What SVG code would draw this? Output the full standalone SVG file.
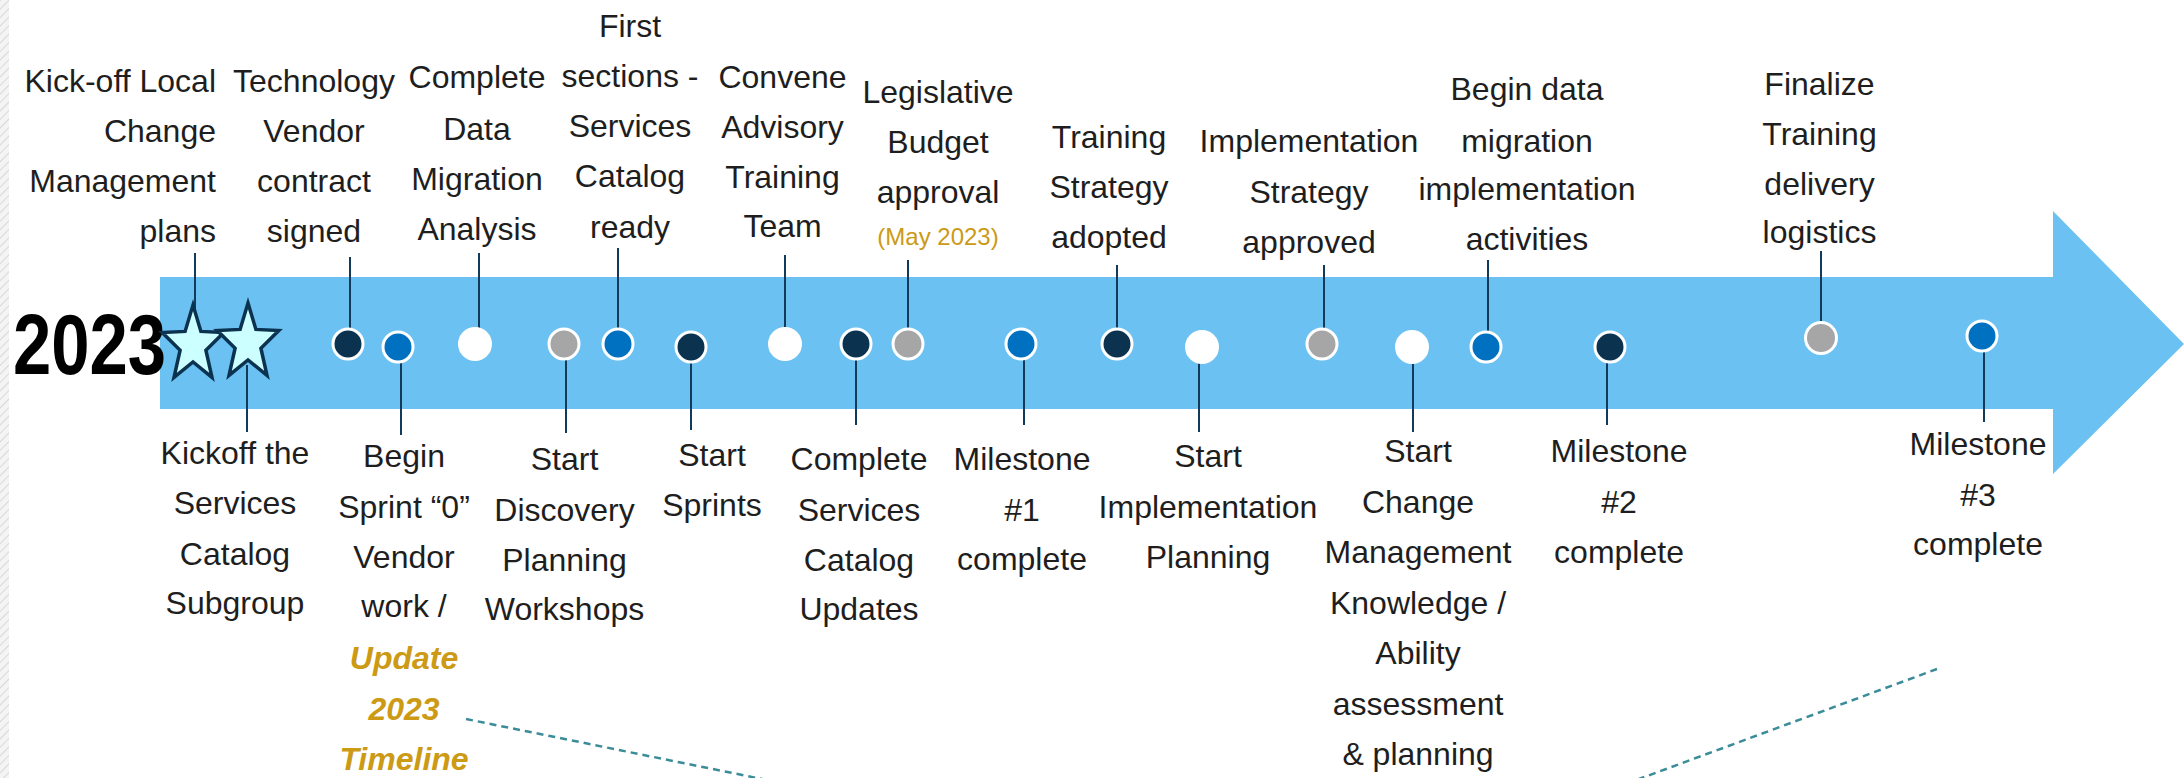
<svg xmlns="http://www.w3.org/2000/svg" width="2184" height="778" viewBox="0 0 2184 778">
<defs>
<style>
.lbl{font-family:"Liberation Sans",Arial,sans-serif;font-size:32px;fill:#1e1e1e;}
.gold{fill:#CC9A14;}
.gbi{font-weight:bold;font-style:italic;font-size:32px;}
.may{font-size:24px;}
.year{font-family:"Liberation Sans",Arial,sans-serif;font-size:86px;font-weight:bold;fill:#000;}
.con{stroke:#123A5A;stroke-width:2;fill:none;}
.dash{stroke:#3B8C99;stroke-width:2.5;stroke-dasharray:7 5;fill:none;}
.dot{stroke:#ffffff;stroke-width:3;}
.navy{fill:#0B3350;}
.blue{fill:#0070C0;}
.gray{fill:#A6A6A6;}
.white{fill:#ffffff;}
.star{fill:#CCFFFF;stroke:#0B3350;stroke-width:3.5;stroke-linejoin:miter;}
</style>
<pattern id="hatch" width="6" height="6" patternUnits="userSpaceOnUse" patternTransform="rotate(45)">
<rect width="6" height="6" fill="#f4f4f4"/>
<line x1="0" y1="0" x2="0" y2="6" stroke="#d8d8d8" stroke-width="2"/>
</pattern>
<polygon id="starShape" points="0,-40 7.9,-13.6 30.8,-12.4 12.9,5.2 19,32.4 0,17 -19,32.4 -12.9,5.2 -30.8,-12.4 -7.9,-13.6"/>
</defs>
<rect width="2184" height="778" fill="#ffffff"/>
<rect x="0" y="0" width="9" height="778" fill="url(#hatch)"/>

<g id="timeline-arrow">
<polygon points="160,277 2053,277 2053,211 2184,344 2053,474 2053,409 160,409" fill="#6BC1F2"/>
</g>

<g id="year-label">
<text class="year" transform="translate(13,374) scale(0.8,1)" x="0" y="0">2023</text>
</g>

<g id="connectors">
<line class="con" x1="195" y1="253" x2="195" y2="318"/>
<line class="con" x1="350" y1="257" x2="350" y2="330"/>
<line class="con" x1="479" y1="253" x2="479" y2="330"/>
<line class="con" x1="618" y1="248" x2="618" y2="330"/>
<line class="con" x1="785" y1="255" x2="785" y2="330"/>
<line class="con" x1="908" y1="260" x2="908" y2="330"/>
<line class="con" x1="1117" y1="265" x2="1117" y2="330"/>
<line class="con" x1="1324" y1="265" x2="1324" y2="330"/>
<line class="con" x1="1488" y1="260" x2="1488" y2="333"/>
<line class="con" x1="1821" y1="251" x2="1821" y2="323"/>
<line class="con" x1="247" y1="365" x2="247" y2="432"/>
<line class="con" x1="401" y1="360" x2="401" y2="435"/>
<line class="con" x1="566" y1="358" x2="566" y2="433"/>
<line class="con" x1="691" y1="360" x2="691" y2="430"/>
<line class="con" x1="856" y1="358" x2="856" y2="425"/>
<line class="con" x1="1024" y1="358" x2="1024" y2="425"/>
<line class="con" x1="1199" y1="361" x2="1199" y2="432"/>
<line class="con" x1="1413" y1="361" x2="1413" y2="432"/>
<line class="con" x1="1607" y1="361" x2="1607" y2="425"/>
<line class="con" x1="1984" y1="350" x2="1984" y2="422"/>
<line class="dash" x1="466" y1="719" x2="762" y2="779"/>
<line class="dash" x1="1937" y1="669" x2="1639" y2="779"/>
</g>

<g id="t1-kickoff-local">
<use href="#starShape" class="star" transform="translate(193,345)"/>
<text class="lbl" text-anchor="end"><tspan x="216" y="92">Kick-off Local</tspan><tspan x="216" y="142">Change</tspan><tspan x="216" y="192">Management</tspan><tspan x="216" y="242">plans</tspan></text>
</g>
<g id="b1-kickoff-services">
<use href="#starShape" class="star" transform="translate(248,343)"/>
<text class="lbl" text-anchor="middle"><tspan x="235" y="464">Kickoff the</tspan><tspan x="235" y="514">Services</tspan><tspan x="235" y="565">Catalog</tspan><tspan x="235" y="614">Subgroup</tspan></text>
</g>
<g id="t2-vendor-contract">
<circle class="dot navy" cx="348" cy="344" r="15"/>
<text class="lbl" text-anchor="middle"><tspan x="314" y="92">Technology</tspan><tspan x="314" y="142">Vendor</tspan><tspan x="314" y="192">contract</tspan><tspan x="314" y="242">signed</tspan></text>
</g>
<g id="b2-sprint-0">
<circle class="dot blue" cx="398" cy="347" r="15"/>
<text class="lbl" text-anchor="middle"><tspan x="404" y="467">Begin</tspan><tspan x="404" y="518">Sprint “0”</tspan><tspan x="404" y="568">Vendor</tspan><tspan x="404" y="617">work /</tspan><tspan class="gold gbi" x="404" y="669">Update</tspan><tspan class="gold gbi" x="404" y="720">2023</tspan><tspan class="gold gbi" x="404" y="770">Timeline</tspan></text>
</g>
<g id="t3-data-migration">
<circle class="dot white" cx="475" cy="344" r="15.5"/>
<text class="lbl" text-anchor="middle"><tspan x="477" y="88">Complete</tspan><tspan x="477" y="140">Data</tspan><tspan x="477" y="190">Migration</tspan><tspan x="477" y="240">Analysis</tspan></text>
</g>
<g id="b3-discovery">
<circle class="dot gray" cx="564" cy="344" r="15"/>
<text class="lbl" text-anchor="middle"><tspan x="564.5" y="470">Start</tspan><tspan x="564.5" y="521">Discovery</tspan><tspan x="564.5" y="571">Planning</tspan><tspan x="564.5" y="620">Workshops</tspan></text>
</g>
<g id="t4-first-sections">
<circle class="dot blue" cx="618" cy="344" r="15"/>
<text class="lbl" text-anchor="middle"><tspan x="630" y="37">First</tspan><tspan x="630" y="87">sections -</tspan><tspan x="630" y="137">Services</tspan><tspan x="630" y="187">Catalog</tspan><tspan x="630" y="238">ready</tspan></text>
</g>
<g id="b4-sprints">
<circle class="dot navy" cx="691" cy="347" r="15"/>
<text class="lbl" text-anchor="middle"><tspan x="712" y="466">Start</tspan><tspan x="712" y="516">Sprints</tspan></text>
</g>
<g id="t5-advisory">
<circle class="dot white" cx="785" cy="344" r="15.5"/>
<text class="lbl" text-anchor="middle"><tspan x="782.5" y="88">Convene</tspan><tspan x="782.5" y="138">Advisory</tspan><tspan x="782.5" y="188">Training</tspan><tspan x="782.5" y="237">Team</tspan></text>
</g>
<g id="b5-catalog-updates">
<circle class="dot navy" cx="856" cy="344" r="15"/>
<text class="lbl" text-anchor="middle"><tspan x="859" y="470">Complete</tspan><tspan x="859" y="521">Services</tspan><tspan x="859" y="571">Catalog</tspan><tspan x="859" y="620">Updates</tspan></text>
</g>
<g id="t6-budget">
<circle class="dot gray" cx="908" cy="344" r="15"/>
<text class="lbl" text-anchor="middle"><tspan x="938" y="103">Legislative</tspan><tspan x="938" y="153">Budget</tspan><tspan x="938" y="203">approval</tspan><tspan class="gold may" x="938" y="245">(May 2023)</tspan></text>
</g>
<g id="b6-milestone-1">
<circle class="dot blue" cx="1021" cy="344" r="15"/>
<text class="lbl" text-anchor="middle"><tspan x="1022" y="470">Milestone</tspan><tspan x="1022" y="521">#1</tspan><tspan x="1022" y="570">complete</tspan></text>
</g>
<g id="t7-training-strategy">
<circle class="dot navy" cx="1117" cy="344" r="15"/>
<text class="lbl" text-anchor="middle"><tspan x="1109" y="148">Training</tspan><tspan x="1109" y="198">Strategy</tspan><tspan x="1109" y="248">adopted</tspan></text>
</g>
<g id="b7-implementation-planning">
<circle class="dot white" cx="1202" cy="347" r="15.5"/>
<text class="lbl" text-anchor="middle"><tspan x="1208" y="467">Start</tspan><tspan x="1208" y="518">Implementation</tspan><tspan x="1208" y="568">Planning</tspan></text>
</g>
<g id="t8-implementation-strategy">
<circle class="dot gray" cx="1322" cy="344" r="15"/>
<text class="lbl" text-anchor="middle"><tspan x="1309" y="152">Implementation</tspan><tspan x="1309" y="203">Strategy</tspan><tspan x="1309" y="253">approved</tspan></text>
</g>
<g id="b8-change-management">
<circle class="dot white" cx="1412" cy="347" r="15.5"/>
<text class="lbl" text-anchor="middle"><tspan x="1418" y="462">Start</tspan><tspan x="1418" y="513">Change</tspan><tspan x="1418" y="563">Management</tspan><tspan x="1418" y="614">Knowledge /</tspan><tspan x="1418" y="664">Ability</tspan><tspan x="1418" y="715">assessment</tspan><tspan x="1418" y="765">&amp; planning</tspan></text>
</g>
<g id="t9-data-migration-begin">
<circle class="dot blue" cx="1486" cy="347" r="15"/>
<text class="lbl" text-anchor="middle"><tspan x="1527" y="100">Begin data</tspan><tspan x="1527" y="152">migration</tspan><tspan x="1527" y="200">implementation</tspan><tspan x="1527" y="250">activities</tspan></text>
</g>
<g id="b9-milestone-2">
<circle class="dot navy" cx="1610" cy="347" r="15"/>
<text class="lbl" text-anchor="middle"><tspan x="1619" y="462">Milestone</tspan><tspan x="1619" y="513">#2</tspan><tspan x="1619" y="563">complete</tspan></text>
</g>
<g id="t10-training-logistics">
<circle class="dot gray" cx="1821" cy="338" r="15.5"/>
<text class="lbl" text-anchor="middle"><tspan x="1819.5" y="95">Finalize</tspan><tspan x="1819.5" y="145">Training</tspan><tspan x="1819.5" y="195">delivery</tspan><tspan x="1819.5" y="243">logistics</tspan></text>
</g>
<g id="b10-milestone-3">
<circle class="dot blue" cx="1982" cy="336" r="15"/>
<text class="lbl" text-anchor="middle"><tspan x="1978" y="455">Milestone</tspan><tspan x="1978" y="506">#3</tspan><tspan x="1978" y="555">complete</tspan></text>
</g>
</svg>
